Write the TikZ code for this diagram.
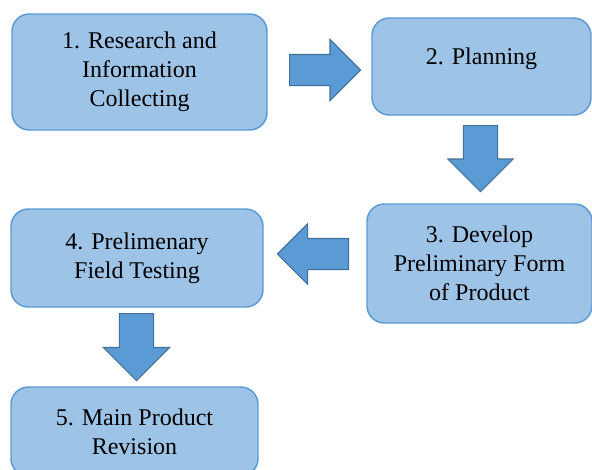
\documentclass[tikz,border=0pt]{standalone}
\usepackage{fontspec}
\setmainfont{Liberation Serif}
\newfontfamily\boxfont{Liberation Serif}
\usetikzlibrary{shapes.arrows}

\definecolor{boxfill}{RGB}{157,195,230}
\definecolor{boxline}{RGB}{91,155,213}
\definecolor{arrfill}{RGB}{91,155,213}
\definecolor{arrline}{RGB}{65,113,156}

\tikzset{
  stepbox/.style={draw=boxline, fill=boxfill, line width=1.1pt, rounded corners=13pt,
    align=center, inner sep=0pt, font=\boxfont\fontsize{18}{21.75}\selectfont},
  blockarrow/.style={single arrow, draw=arrline, fill=arrfill, line width=0.8pt,
    inner xsep=0pt, single arrow head indent=0pt, single arrow tip angle=90, anchor=tail}
}

\begin{document}
\begin{tikzpicture}[x=0.75pt,y=0.75pt,yscale=-1,xscale=1]
\useasboundingbox (0,0) rectangle (592,469);
\clip (0,0) rectangle (592,469);

%Shape: Rounded Rect [id:research]
\node [stepbox, minimum width=191.25pt, minimum height=87pt] (research) at (139.5,72) {1. Research and\\Information\\Collecting};
%Shape: Rounded Rect [id:planning]
\node [stepbox, minimum width=164.25pt, minimum height=72.75pt, text height=12pt, text depth=15.75pt] (planning) at (481.5,66.5) {2. Planning};
%Shape: Rounded Rect [id:develop]
\node [stepbox, minimum width=168.75pt, minimum height=89.25pt] (develop) at (479.5,263.5) {3. Develop\\Preliminary Form\\of Product};
%Shape: Rounded Rect [id:fieldtest]
\node [stepbox, minimum width=189pt, minimum height=73.5pt] (fieldtest) at (137,258) {4. Prelimenary\\Field Testing};
%Shape: Rounded Rect [id:revision]
\node [stepbox, minimum width=185.25pt, minimum height=66.75pt] (revision) at (134.5,431.5) {5. Main Product\\Revision};

%Shape: Right Arrow [id:arrA]
\node [blockarrow, minimum height=53.25pt, inner ysep=11.25pt, single arrow head extend=11.25pt] (arrA) at (289,70) {};
%Shape: Down Arrow [id:arrB]
\node [blockarrow, rotate=-90, minimum height=49.5pt, inner ysep=12.4pt, single arrow head extend=11.6pt] (arrB) at (480.5,125) {};
%Shape: Left Arrow [id:arrC]
\node [blockarrow, rotate=180, minimum height=53.25pt, inner ysep=11.25pt, single arrow head extend=10.9pt] (arrC) at (349,254) {};
%Shape: Down Arrow [id:arrD]
\node [blockarrow, rotate=-90, minimum height=50.25pt, inner ysep=12.4pt, single arrow head extend=12pt] (arrD) at (136.5,313) {};

\end{tikzpicture}
\end{document}
